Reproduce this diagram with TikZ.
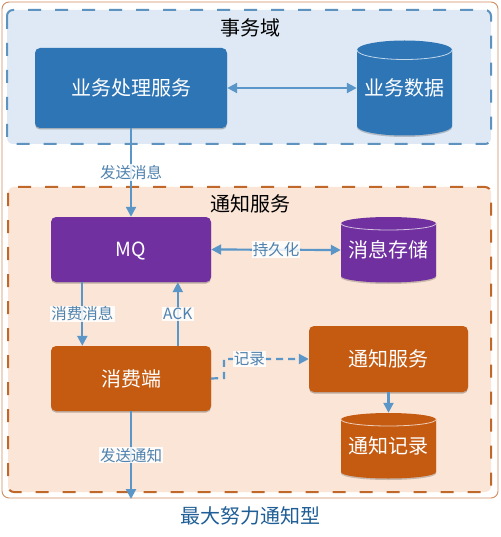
\documentclass[tikz,border=0pt]{standalone}
\usepackage{fontspec}
\setmainfont{Noto Sans CJK SC}
\usetikzlibrary{arrows.meta,calc,shadows}
\definecolor{cblue}{HTML}{2E75B6}
\definecolor{cpurple}{HTML}{7030A0}
\definecolor{corange}{HTML}{C55A11}
\definecolor{regblue}{HTML}{DEE9F5}
\definecolor{regorange}{HTML}{FBE5D6}
\definecolor{dashblue}{HTML}{5F93BF}
\definecolor{dashorange}{HTML}{C0672A}
\definecolor{arrowc}{HTML}{5B96C8}
\definecolor{labelc}{HTML}{4F82AE}
\definecolor{titlec}{HTML}{1F5E96}
\tikzset{
  x=1pt,y=-1pt,
  frame/.style={draw=#1,line width=2pt,dash pattern=on 13pt off 14pt,rounded corners=6pt},
  softshadow/.style={drop shadow={shadow xshift=0pt,shadow yshift=-1.5pt,opacity=.25,fill=black}},
  procbox/.style={fill=#1,rounded corners=5pt,text=white,font=\fontsize{20}{22}\selectfont,inner sep=0pt,softshadow},
  store/.style={text=white,font=\fontsize{20}{22}\selectfont,inner sep=0pt,minimum width=95pt},
  drumbody/.style={fill=#1},
  drumshade/.style={fill=black,opacity=.2},
  rim/.style={draw=white!70!#1,line width=.8pt},
  conn/.style={draw=arrowc,line width=2.2pt,-{Triangle[length=10pt,width=10pt]}},
  conn2/.style={draw=arrowc,line width=2.2pt,{Triangle[length=10pt,width=10pt]}-{Triangle[length=10pt,width=10pt]}},
  lab/.style={fill=white,fill opacity=.85,text opacity=1,text=labelc,font=\fontsize{15.5}{17}\selectfont,inner sep=1.2pt},
  heading/.style={text=black,font=\fontsize{20}{22}\selectfont,inner sep=0pt},
}
\begin{document}
\begin{tikzpicture}
\useasboundingbox (0,0) rectangle (500,537);
\fill[white] (0,0) rectangle (500,537);
\path[draw=dashorange!75,line width=.9pt,fill=white,rounded corners=7pt] (2,2) rectangle (498,498);
\path[frame=dashblue,fill=regblue] (7,10) rectangle (491,144);
\path[frame=dashorange,fill=regorange] (8,187) rectangle (491,492);

\node[heading] (t1) at (250,28) {事务域};
\node[heading] (t2) at (250,204) {通知服务};

% cylinder bodies
\path[drumshade] (357,51) -- (357,127.5) arc[start angle=180,end angle=360,x radius=47.5,y radius=-9.5] -- (452,51) -- cycle;
\path[drumbody=cblue] (357,50) arc[start angle=180,end angle=0,x radius=47.5,y radius=-9.5] -- (452,126) arc[start angle=360,end angle=180,x radius=47.5,y radius=-9.5] -- cycle;
\draw[rim=cblue] (357,50) arc[start angle=180,end angle=360,x radius=47.5,y radius=-9.5];

\path[drumshade] (341,224) -- (341,277.5) arc[start angle=180,end angle=360,x radius=47.5,y radius=-6.5] -- (436,224) -- cycle;
\path[drumbody=cpurple] (341,223.5) arc[start angle=180,end angle=0,x radius=47.5,y radius=-6.5] -- (436,276) arc[start angle=360,end angle=180,x radius=47.5,y radius=-6.5] -- cycle;
\draw[rim=cpurple] (341,223.5) arc[start angle=180,end angle=360,x radius=47.5,y radius=-6.5];

\path[drumshade] (341,420) -- (341,473.5) arc[start angle=180,end angle=360,x radius=47.5,y radius=-6.5] -- (436,420) -- cycle;
\path[drumbody=corange] (341,419.5) arc[start angle=180,end angle=0,x radius=47.5,y radius=-6.5] -- (436,472) arc[start angle=360,end angle=180,x radius=47.5,y radius=-6.5] -- cycle;
\draw[rim=corange] (341,419.5) arc[start angle=180,end angle=360,x radius=47.5,y radius=-6.5];

\node[procbox=cblue,minimum width=192pt,minimum height=80pt] (biz) at (131,88) {业务处理服务};
\node[store,minimum height=95pt] (bizdb) at (404.5,88) {业务数据};
\node[procbox=cpurple,minimum width=160pt,minimum height=65pt,font=\fontsize{19.5}{22}\selectfont,text height=14pt,text depth=0pt] (mq) at (131,249.5) {MQ};
\node[store,minimum height=66pt] (msgdb) at (388.5,250) {消息存储};
\node[procbox=corange,minimum width=160pt,minimum height=65pt] (cons) at (131,378.5) {消费端};
\node[procbox=corange,minimum width=159pt,minimum height=66pt] (notify) at (388.5,359) {通知服务};
\node[store,minimum height=65pt] (notedb) at (388.5,445.5) {通知记录};

\coordinate (out) at (131,499);
\coordinate (elbow) at (224,378);

\draw[conn2] (biz.east) -- (bizdb.west);
\draw[conn] (biz.south) -- node[lab] (l1) {发送消息} (mq.north);
\draw[conn2] (mq.east) -- node[lab,pos=.5] (l2) {持久化} (msgdb.west);
\draw[conn] ($(mq.south west)+(31.5,0)$) -- node[lab] (l3) {消费消息} ($(cons.north west)+(31.5,0)$);
\draw[conn] ($(cons.north west)+(127,0)$) -- node[lab] (l4) {ACK} ($(mq.south west)+(127,0)$);
\draw[conn] (cons.south) -- node[lab,pos=.5] (l5) {发送通知} (out);
\draw[conn,dash pattern=on 7pt off 5pt] (cons.east) -- (elbow) |- node[lab,pos=.65] (l6) {记录} (notify.west);
\draw[conn] (notify.south) -- (notedb.north);

\node[text=titlec,font=\fontsize{20}{22}\selectfont,inner sep=0pt] (cap) at (250,516) {最大努力通知型};
\end{tikzpicture}
\end{document}
